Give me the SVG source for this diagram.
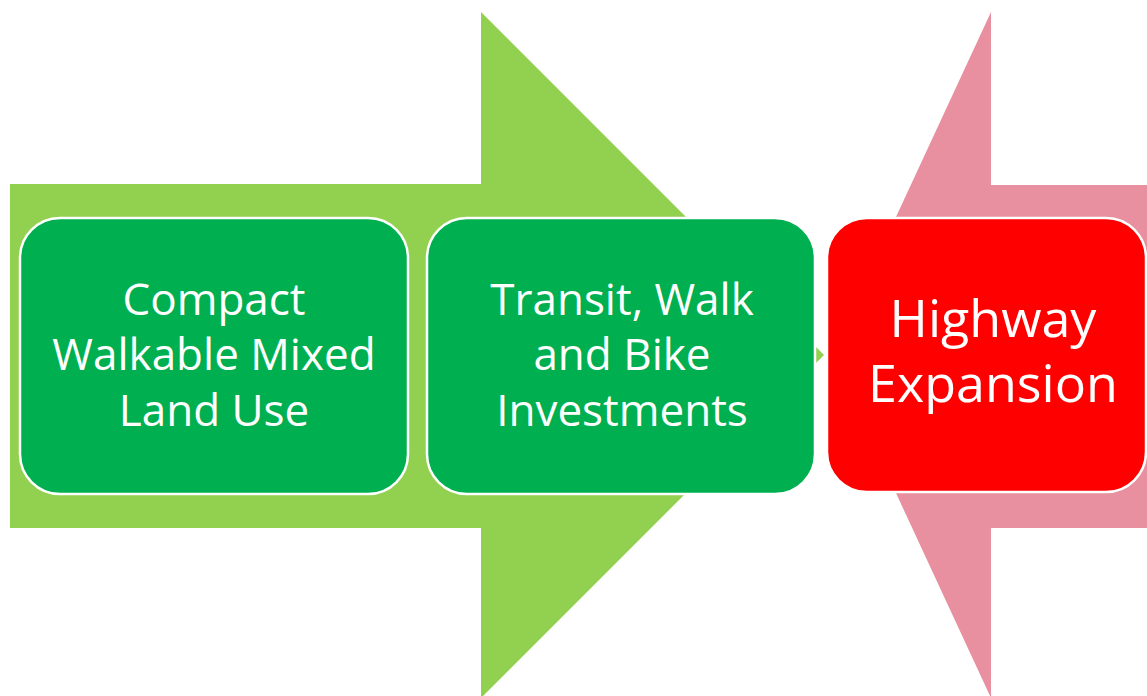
<svg xmlns="http://www.w3.org/2000/svg" width="1147" height="696" viewBox="0 0 1147 696">
<style>
.box{stroke:#ffffff;stroke-width:2.5}
.t{font-family:"Open Sans","Liberation Sans",sans-serif;fill:#ffffff;text-anchor:middle}
.s{font-size:44px}
.l{font-size:52px}
</style>
<rect x="0" y="0" width="1147" height="696" fill="#ffffff"/>
<g id="arrows">
<polygon id="green-arrow" points="10,184 481,184 481,12 824,355 481,698 481,528 10,528" fill="#92D050"/>
<polygon id="pink-arrow" points="1147,185 991,185 991,12 832,355 991,698 991,528 1147,528" fill="#E8909F"/>
</g>
<g id="node1">
<rect class="box" x="20" y="218" width="388" height="276" rx="40" fill="#00B050"/>
<text class="t s" x="214" y="315">Compact</text>
<text class="t s" x="214" y="370">Walkable Mixed</text>
<text class="t s" x="214" y="426">Land Use</text>
</g>
<g id="node2">
<rect class="box" x="427" y="218" width="388" height="276" rx="40" fill="#00B050"/>
<text class="t s" x="622" y="315">Transit, Walk</text>
<text class="t s" x="622" y="370">and Bike</text>
<text class="t s" x="622" y="426">Investments</text>
</g>
<g id="node3">
<rect class="box" x="827" y="218" width="319" height="274" rx="40" fill="#FF0000"/>
<text class="t l" x="993" y="337">Highway</text>
<text class="t l" x="993" y="402">Expansion</text>
</g>
</svg>
